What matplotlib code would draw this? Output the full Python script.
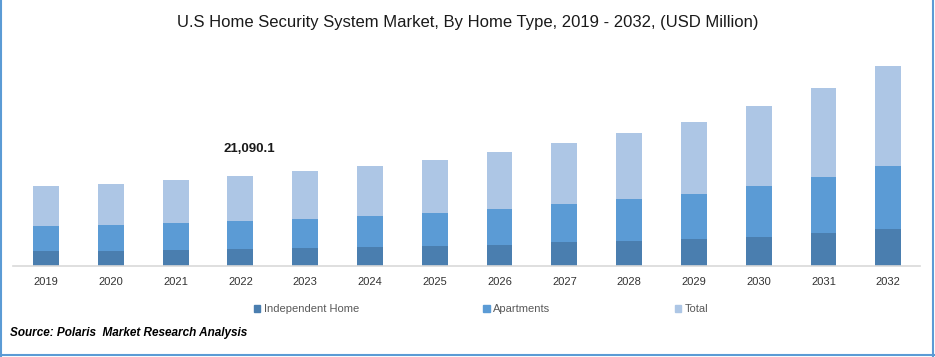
import matplotlib.pyplot as plt
from matplotlib.lines import Line2D
from matplotlib.patches import Patch

years = ['2019', '2020', '2021', '2022', '2023', '2024', '2025', '2026',
         '2027', '2028', '2029', '2030', '2031', '2032']
independent = [6960, 7150, 7560, 8050, 8470, 8900, 9420, 9980,
               11050, 11560, 12650, 13620, 15400, 17300]
apartments = [11700, 12150, 12650, 13040.1, 13700, 14500, 15400, 16800,
              17800, 19600, 21100, 23900, 26200, 29500]
total = [a + b for a, b in zip(independent, apartments)]
labels = ['Independent Home', 'Apartments', 'Total']

c_ind = '#4A7EAF'
c_apt = '#5B9BD5'
c_tot = '#ADC6E5'

plt.rcParams['font.family'] = ['Liberation Sans', 'DejaVu Sans']

fig = plt.figure(figsize=(9.35, 3.57), dpi=100)
ax = fig.add_axes([13 / 935, 91 / 357, 907 / 935, 216 / 357])

x = list(range(len(years)))
w = 0.40
ax.bar(x, independent, w, color=c_ind)
ax.bar(x, apartments, w, bottom=independent, color=c_apt)
ax.bar(x, total, w, bottom=[a + b for a, b in zip(independent, apartments)], color=c_tot)

ax.set_xlim(-0.51, 13.49)
ax.set_ylim(0, 101088)
ax.set_yticks([])
ax.set_xticks(x)
ax.set_xticklabels(years, fontsize=8, color='#333333')
ax.tick_params(axis='x', length=0, pad=8)
for s in ['top', 'right', 'left']:
    ax.spines[s].set_visible(False)
ax.spines['bottom'].set_color('#D9D9D9')
ax.spines['bottom'].set_linewidth(1.2)

# label of 2022 total
ax.text(3.14, 2 * total[3] + 12500, '{:,.1f}'.format(total[3]),
        ha='center', va='center', fontsize=9.5, fontweight='bold', color='#1a1a1a')

fig.text(0.5, 1 - 22 / 357, 'U.S Home Security System Market, By Home Type, 2019 - 2032, (USD Million)',
         ha='center', va='center', fontsize=12, color='#1a1a1a')

handles = [Patch(color=c_ind), Patch(color=c_apt), Patch(color=c_tot)]
fig.legend(handles, labels, loc='center', bbox_to_anchor=(481 / 935, 1 - 309 / 357),
           ncol=3, frameon=False, fontsize=8, labelcolor='#595959',
           handlelength=0.6, handleheight=0.6, handletextpad=0.3, columnspacing=11.2)

fig.text(10 / 935, 1 - 333 / 357, 'Source: Polaris  Market Research Analysis',
         ha='left', va='center', fontsize=8.5, fontweight='bold', fontstyle='italic')

# blue border
bc = '#5B9BD5'
fig.add_artist(Line2D([1 / 935, 1 / 935], [0, 1], color=bc, lw=1.5))
fig.add_artist(Line2D([933 / 935, 933 / 935], [0, 1], color=bc, lw=1.5))
fig.add_artist(Line2D([0, 1], [2 / 357, 2 / 357], color=bc, lw=1.5))

fig.savefig('out.png', dpi=100)
